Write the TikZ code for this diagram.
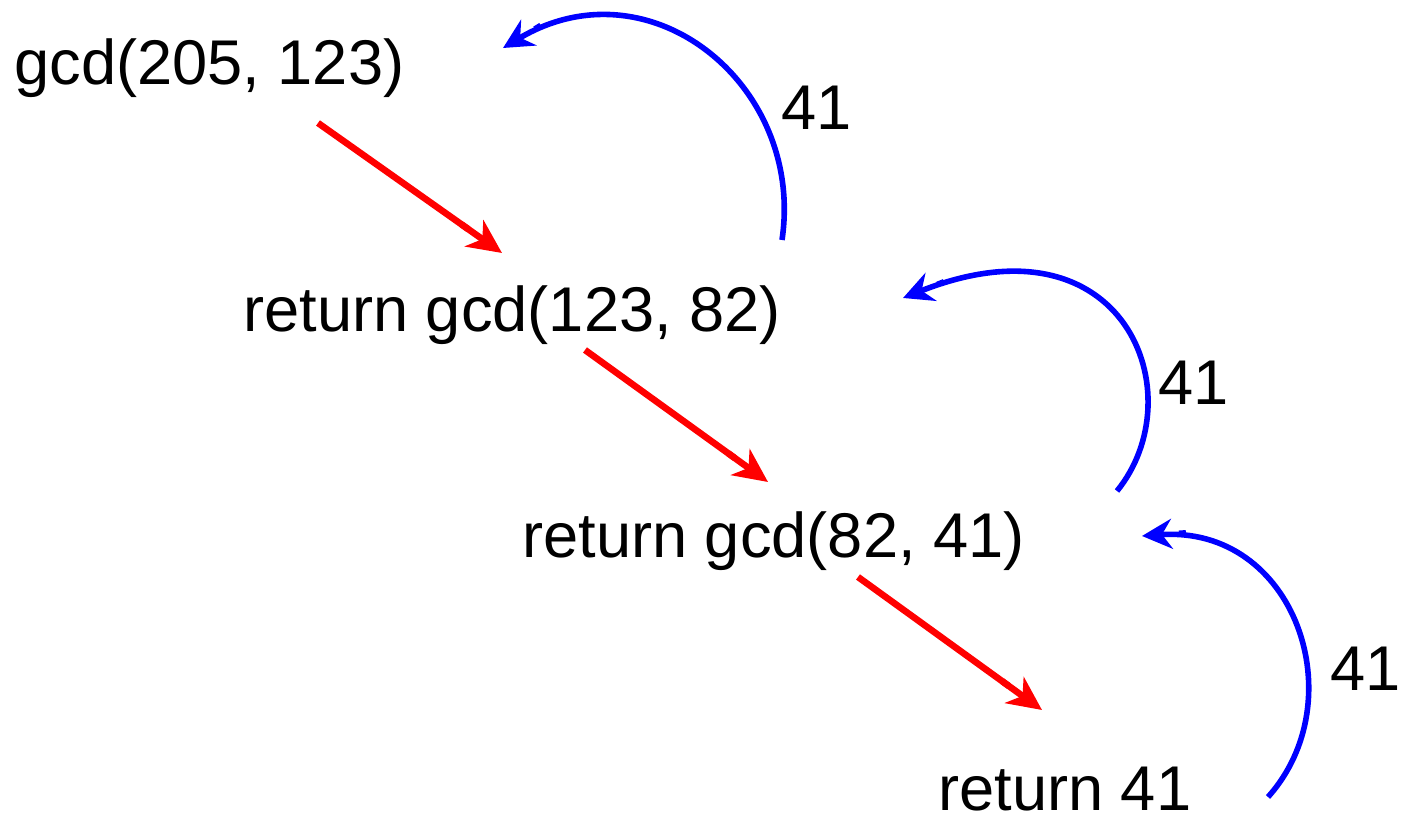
\documentclass[tikz,border=0pt]{standalone}
\usepackage{fontspec}
\setmainfont{Liberation Sans}
\usetikzlibrary{arrows.meta}
\begin{document}
\begin{tikzpicture}[x=0.5pt,y=-0.5pt,
  lbl/.style={inner sep=0pt,anchor=base west,font=\fontsize{31.6}{38}\selectfont},
  callarrow/.style={draw={rgb,255:red,255;green,0;blue,0},line width=3.3pt,
    -{Butt Cap[sep=3.5pt]Stealth[length=17pt,width=16pt,inset=5pt]}},
  retarrow/.style={draw={rgb,255:red,0;green,0;blue,255},line width=2.8pt,
    -{Butt Cap[sep=3.5pt]Stealth[length=15pt,width=15pt,inset=5pt]}}]
\useasboundingbox (0,0) rectangle (1408,817);
% texts
\node[lbl] (g1) at (14,85) {gcd(205, 123)};
\node[lbl] (g2) at (243,332) {return gcd(123, 82)};
\node[lbl] (g3) at (522,558) {return gcd(82, 41)};
\node[lbl] (g4) at (938,810) {return 41};
\node[lbl] (v1) at (781,130) {41};
\node[lbl] (v2) at (1158,405) {41};
\node[lbl] (v3) at (1330,690) {41};
% call arrow endpoints
\coordinate (c1s) at (318,123); \coordinate (c1e) at (502,253);
\coordinate (c2s) at (585,350); \coordinate (c2e) at (768,482);
\coordinate (c3s) at (858,577); \coordinate (c3e) at (1042,710);
\draw[callarrow] (c1s) -- (c1e);
\draw[callarrow] (c2s) -- (c2e);
\draw[callarrow] (c3s) -- (c3e);
% return arrows
\coordinate (r1s) at (782,240); \coordinate (r1e) at (503,48);
\coordinate (r2s) at (1117,491); \coordinate (r2e) at (903,298);
\coordinate (r3s) at (1268,797); \coordinate (r3e) at (1142,536);
\draw[retarrow] (r1s) .. controls (805,85) and (650,-40) .. (r1e);
\draw[retarrow] (r2s) .. controls (1195,395) and (1125,210) .. (r2e);
\draw[retarrow] (r3s) .. controls (1355,700) and (1295,525) .. (r3e);
\end{tikzpicture}
\end{document}
